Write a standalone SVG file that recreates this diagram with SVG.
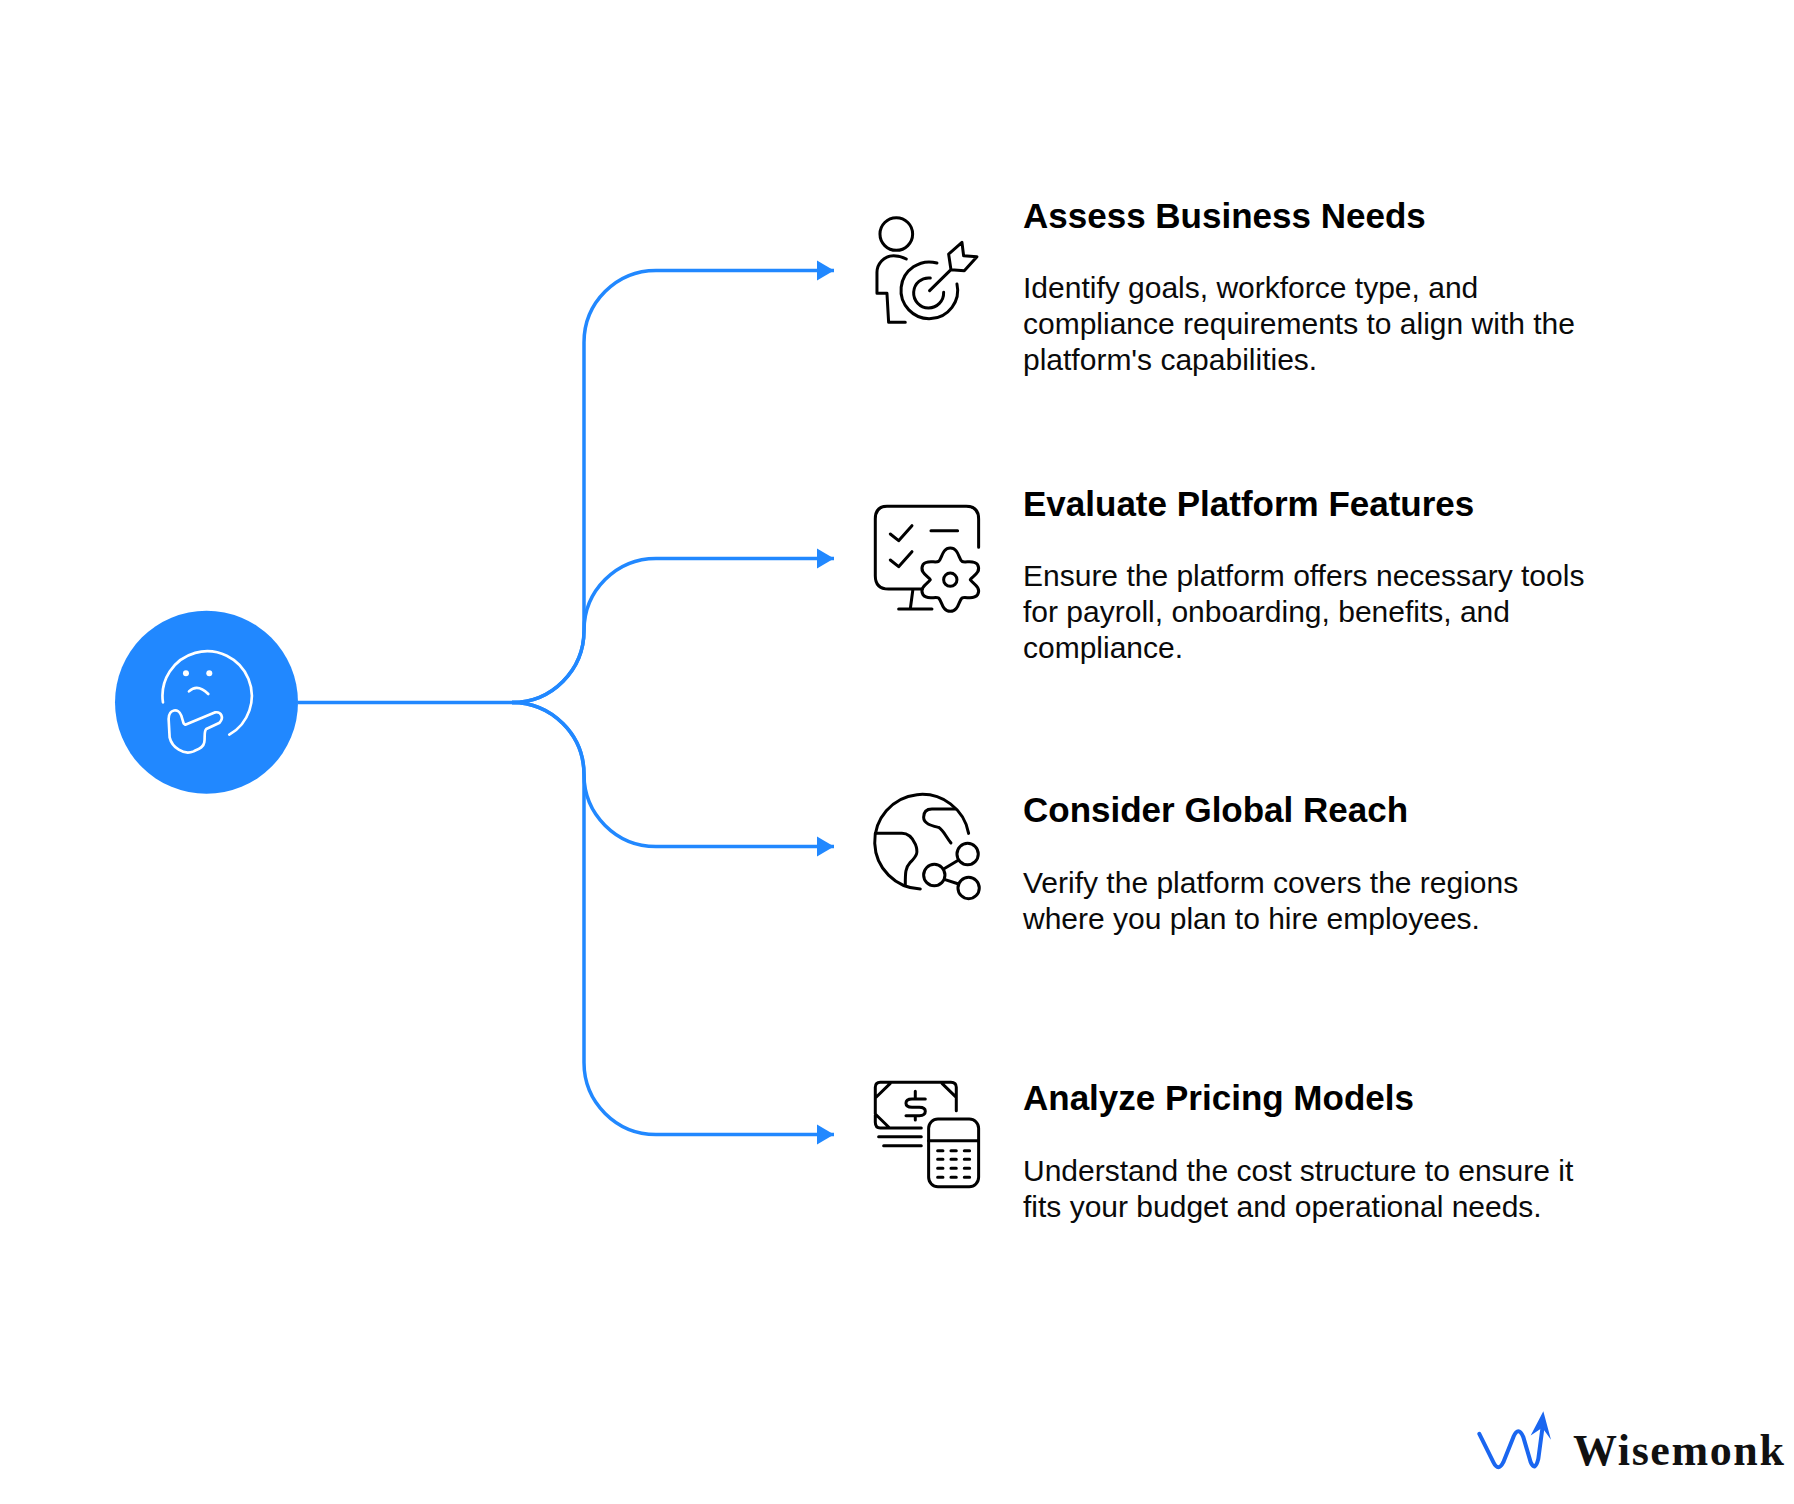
<svg xmlns="http://www.w3.org/2000/svg" width="1794" height="1504" viewBox="0 0 1794 1504">
<style>
.t{font:bold 35px "Liberation Sans",Arial,sans-serif;fill:#000}
.b{font:30px "Liberation Sans",Arial,sans-serif;fill:#0a0a0a}
.c{fill:none;stroke:#2188ff;stroke-width:3.5}
.i{fill:none;stroke:#000;stroke-width:9;stroke-linecap:round;stroke-linejoin:round}
.w{fill:none;stroke:#fff;stroke-width:8;stroke-linecap:round;stroke-linejoin:round}
</style>
<defs><marker id="a" markerUnits="userSpaceOnUse" markerWidth="18" markerHeight="22" refX="17" refY="11" orient="auto"><path d="M0 1L17 11L0 21Z" fill="#2188ff"/></marker></defs>
<rect width="1794" height="1504" fill="#fff"/>
<g id="connectors" transform="translate(0 .5)">
<path class="c" marker-end="url(#a)" d="M298 702H512A72 72 0 0 0 584 630V342A72 72 0 0 1 656 270H834"/>
<path class="c" marker-end="url(#a)" d="M512 702A72 72 0 0 0 584 630A72 72 0 0 1 656 558H834"/>
<path class="c" marker-end="url(#a)" d="M512 702A72 72 0 0 1 584 774A72 72 0 0 0 656 846H834"/>
<path class="c" marker-end="url(#a)" d="M512 702A72 72 0 0 1 584 774V1062A72 72 0 0 0 656 1134H834"/>
</g>
<g id="hub">
<circle cx="206.5" cy="702.3" r="91.5" fill="#2188ff"/>
<g transform="translate(100.3 600.7) scale(.3333)">
<path class="w" d="M188 305A134 134 0 1 1 387 402"/>
<circle cx="257" cy="218" r="9" fill="#fff"/><circle cx="327" cy="218" r="9" fill="#fff"/>
<path class="w" d="M266 272Q292 248 324 280"/>
<path class="w" d="M255 372L345 335C362 332 372 350 358 366L318 385C310 392 315 410 312 425C310 440 295 445 280 452C250 465 215 440 208 410L205 355C205 325 235 320 243 345L250 368Z"/>
</g>
</g>
<g id="node-assess">
<g transform="translate(860.3 200.7) scale(.3333)">
<circle class="i" cx="108" cy="100" r="49"/>
<path class="i" d="M138 175Q120 165 100 165C70 165 50 190 50 215V278H80L85 365H135"/>
<path class="i" d="M230 187A85 85 0 1 0 290 250"/>
<path class="i" d="M210 232A45 45 0 1 0 250 275"/>
<path class="i" d="M208 270L272 207M272 207L265 160L305 125L310 165L350 168L312 210Z"/>
</g>
<text class="t" x="1023" y="228">Assess Business Needs</text>
<text class="b" x="1023" y="298">Identify goals, workforce type, and</text>
<text class="b" x="1023" y="334">compliance requirements to align with the</text>
<text class="b" x="1023" y="370">platform's capabilities.</text>
</g>
<g id="node-evaluate">
<g transform="translate(860.3 490.7) scale(.3333)">
<path class="i" d="M355 170V85Q355 47 318 47H80Q45 47 45 85V255Q45 295 85 295H185M158 295L150 355M115 355H215"/>
<path class="i" d="M90 130L115 150L155 105M90 208L115 228L155 183M212 120H292"/>
<path class="i" d="M235 212C245 205 245 172 270 172C295 172 295 205 305 212C315 218 340 205 352 222C365 245 335 258 330 267C335 276 365 290 352 312C340 330 315 316 305 322C295 330 295 362 270 362C245 362 245 330 235 322C225 316 200 330 188 312C175 290 205 276 210 267C205 258 175 245 188 222C200 205 225 218 235 212Z"/>
<circle class="i" cx="270" cy="267" r="20"/>
</g>
<text class="t" x="1023" y="516">Evaluate Platform Features</text>
<text class="b" x="1023" y="586">Ensure the platform offers necessary tools</text>
<text class="b" x="1023" y="622">for payroll, onboarding, benefits, and</text>
<text class="b" x="1023" y="658">compliance.</text>
</g>
<g id="node-consider">
<g transform="translate(860.3 780.7) scale(.3333)">
<path class="i" d="M325 158A142 142 0 1 0 180 325"/>
<path class="i" d="M45 158H125Q150 158 165 190C175 215 170 225 150 245C135 262 135 275 135 312"/>
<path class="i" d="M285 85H215Q190 85 190 110C190 130 215 135 235 140C250 150 255 165 272 187"/>
<circle class="i" cx="322" cy="220" r="32"/><circle class="i" cx="222" cy="283" r="32"/><circle class="i" cx="325" cy="322" r="32"/>
<path class="i" d="M250 265L295 238M252 296L295 310"/>
</g>
<text class="t" x="1023" y="822">Consider Global Reach</text>
<text class="b" x="1023" y="893">Verify the platform covers the regions</text>
<text class="b" x="1023" y="929">where you plan to hire employees.</text>
</g>
<g id="node-analyze">
<g transform="translate(860.3 1070.7) scale(.3333)">
<path class="i" d="M288 120V50Q288 35 272 35H60Q45 35 45 50V155Q45 172 60 172H183M90 38L45 82M245 38L288 80M45 130L88 172"/>
<path class="i" d="M195 85H155Q137 85 137 98Q137 110 155 110H177Q195 110 195 122Q195 135 177 135H137M165 62V85M165 135V148"/>
<path class="i" d="M55 198H183M70 225H183"/>
<rect class="i" x="205" y="145" width="150" height="203" rx="28"/>
<path class="i" d="M205 210H355M232 240H248M272 240H288M312 240H328M232 266H248M272 266H288M312 266H328M232 293H248M272 293H288M312 293H328M232 320H248M272 320H288M312 320H328"/>
</g>
<text class="t" x="1023" y="1110">Analyze Pricing Models</text>
<text class="b" x="1023" y="1181">Understand the cost structure to ensure it</text>
<text class="b" x="1023" y="1217">fits your budget and operational needs.</text>
</g>
<g id="logo">
<g transform="translate(1460 1390.5) scale(.3333)">
<path d="M58 130L100 215Q115 245 130 215L160 140Q175 105 190 140L212 215Q225 245 235 205L247 115" fill="none" stroke="#1a66f0" stroke-width="12" stroke-linecap="round" stroke-linejoin="round"/>
<path d="M250 62L212 135L247 112L273 148Z" fill="#1a66f0"/>
</g>
<text x="1573" y="1464.5" font-family="'Liberation Serif',serif" font-weight="bold" font-size="44" letter-spacing="1.6" fill="#111">Wisemonk</text>
</g>
</svg>
